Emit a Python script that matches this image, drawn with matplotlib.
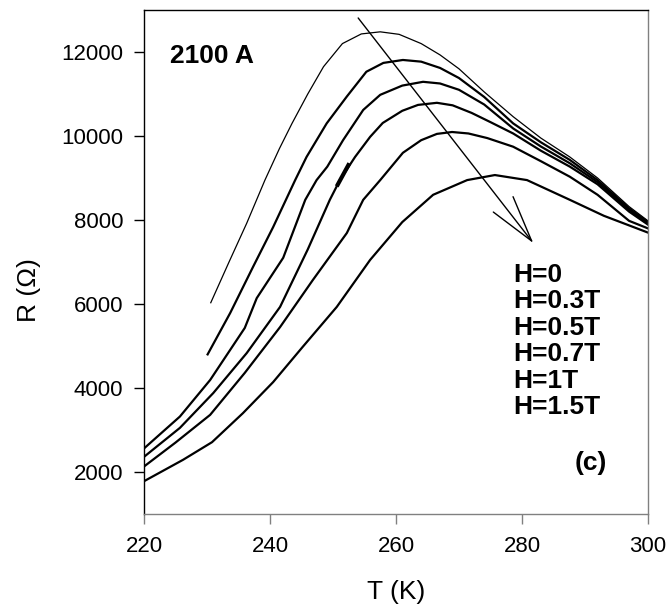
import matplotlib
matplotlib.use('Agg')
import matplotlib.pyplot as plt

plt.rcParams['font.family'] = ['Liberation Sans', 'DejaVu Sans']

# R(T) curves for 2100 A film at different fields
fields = ['H=0', 'H=0.3T', 'H=0.5T', 'H=0.7T', 'H=1T', 'H=1.5T']

T_h0 = [230.6, 233.5, 236.3, 239.2, 241.5, 243.5, 246, 248.5, 251.5, 254.5, 257.5, 260.5,
        264, 267, 270, 274, 278.6, 283, 287.6, 292, 297, 300]
R_h0 = [6030, 7000, 7920, 8950, 9700, 10300, 11000, 11650, 12200, 12430, 12480, 12420,
        12200, 11930, 11600, 11050, 10460, 9950, 9500, 9000, 8320, 7980]

T_h03 = [230.1, 233.7, 237.3, 240.5, 244, 245.8, 249, 252.2, 255.3, 258, 261.1, 264,
         267, 270, 274, 278.6, 283, 287.6, 292, 297, 300]
R_h03 = [4800, 5790, 6880, 7830, 8950, 9500, 10300, 10940, 11530, 11740, 11810, 11770,
         11620, 11380, 10930, 10300, 9850, 9430, 8950, 8280, 7950]

T_h05 = [220, 225.7, 230.5, 236, 237.9, 242.1, 245.6, 247.4, 249.1, 251.6, 254.8, 257.5,
         261, 264.3, 267, 270, 274, 278.6, 283, 287.6, 292, 297, 300]
R_h05 = [2560, 3320, 4190, 5430, 6140, 7100, 8480, 8950, 9270, 9900, 10620, 10980,
         11200, 11290, 11250, 11100, 10750, 10180, 9750, 9350, 8900, 8240, 7920]

T_h07 = [220, 225.7, 231, 236.3, 241.6, 246, 249.5, 251.1, 253.5, 255.9, 257.9, 261,
         263.5, 266.5, 269, 272, 275, 278.6, 283, 287.6, 292, 297, 300]
R_h07 = [2360, 3050, 3880, 4830, 5930, 7300, 8480, 8950, 9500, 9980, 10310, 10600,
         10740, 10790, 10730, 10550, 10330, 10060, 9650, 9270, 8850, 8200, 7890]
# short overlapping piece drawn heavier in the original
T_h07_dash = [250.6, 252.6]
R_h07_dash = [8800, 9350]

T_h1 = [220, 225, 230.5, 236, 241.6, 246.8, 252.2, 254.8, 257.5, 261.1, 264, 266.5,
        268.9, 271.5, 274.5, 278.6, 283, 287.6, 292, 297, 300]
R_h1 = [2130, 2700, 3360, 4360, 5450, 6570, 7690, 8480, 8950, 9600, 9900, 10050,
        10095, 10060, 9950, 9745, 9400, 9030, 8600, 7980, 7800]

T_h15 = [220, 226.2, 230.8, 235.7, 240.5, 245.2, 250.6, 255.9, 261, 265.9, 271.3, 275.7,
         280.8, 287.6, 293, 300]
R_h15 = [1780, 2290, 2710, 3400, 4140, 4980, 5930, 7050, 7950, 8600, 8950, 9070,
         8950, 8480, 8100, 7700]

curves = [(T_h0, R_h0, 0.9), (T_h03, R_h03, 1.6), (T_h05, R_h05, 1.6),
          (T_h07, R_h07, 1.6), (T_h1, R_h1, 1.6), (T_h15, R_h15, 1.6)]

xticks = [220, 240, 260, 280, 300]
yticks = [2000, 4000, 6000, 8000, 10000, 12000]

fig = plt.figure(figsize=(6.7, 6.09), dpi=100)
ax = fig.add_axes([0.2149, 0.156, 0.7522, 0.8276])

for T, R, lw in curves:
    ax.plot(T, R, color='black', lw=lw, solid_joinstyle='round')
ax.plot(T_h07_dash, R_h07_dash, color='black', lw=3.0, solid_capstyle='butt')

# field direction arrow
ax.annotate('', xy=(281.8, 7450), xytext=(254.0, 12810),
            arrowprops=dict(arrowstyle='->,head_length=1.67,head_width=0.45',
                            color='black', lw=1.0, mutation_scale=20,
                            shrinkA=0, shrinkB=0))

ax.set_xlim(220, 300)
ax.set_ylim(1000, 13000)
ax.set_xticks(xticks)
ax.set_yticks(yticks)
ax.tick_params(axis='both', direction='out', length=7, width=1.0, labelsize=16)
ax.tick_params(axis='y', pad=8, color='black')
ax.tick_params(axis='x', pad=9, color='#808080')

ax.spines['left'].set_color('black')
ax.spines['top'].set_color('black')
ax.spines['bottom'].set_color('#808080')
ax.spines['right'].set_color('#808080')
for s in ax.spines.values():
    s.set_linewidth(1.0)

ax.set_xlabel('T (K)', fontsize=19)
ax.set_ylabel('R (\u03a9)', fontsize=19)
ax.xaxis.set_label_coords(0.5, -0.131)
ax.yaxis.set_label_coords(-0.205, 0.445)

ax.text(0.0516, 0.895, '2100 A', transform=ax.transAxes, fontsize=19,
        fontweight='bold', va='baseline', ha='left')
for i, lab in enumerate(fields):
    ax.text(0.732, 0.461 - i * 0.0526, lab, transform=ax.transAxes, fontsize=19,
            fontweight='bold', va='baseline', ha='left')
ax.text(0.855, 0.087, '(c)', transform=ax.transAxes, fontsize=19,
        fontweight='bold', va='baseline', ha='left')

fig.savefig('out.png', dpi=100)
